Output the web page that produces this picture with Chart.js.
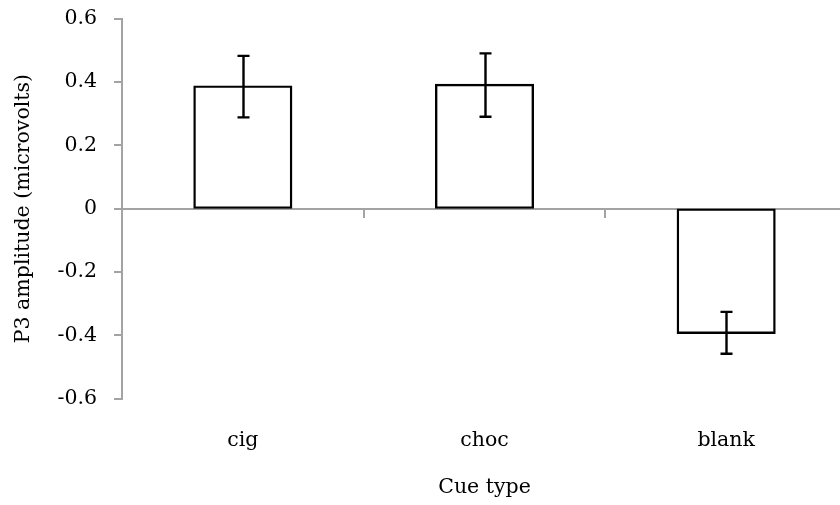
<!DOCTYPE html>
<html>
<head>
<meta charset="utf-8">
<script src="https://cdn.jsdelivr.net/npm/chart.js@4/dist/chart.umd.min.js"></script>
<style>
  html, body { margin: 0; padding: 0; background: #ffffff; overflow: hidden; }
  #wrap { position: relative; width: 847px; height: 505px; }
</style>
</head>
<body>
<div id="wrap"><canvas id="chart"></canvas></div>
<script>
// Mean P3 amplitude per cue type, with standard error
const categories = ['cig', 'choc', 'blank'];
const amplitudes = [0.385, 0.39, -0.392];
const stdErrors = [0.097, 0.1, 0.066];
const yTicks = [-0.6, -0.4, -0.2, 0, 0.2, 0.4, 0.6];

const AXIS_GREY = '#a3a3a3';
const FONT = { family: '"DejaVu Serif", serif', size: 20.5 };

// Draws the error whiskers on top of each bar
const errorBars = {
  id: 'errorBars',
  afterDatasetsDraw(chart) {
    const meta = chart.getDatasetMeta(0);
    const yScale = chart.scales.y;
    const ctx = chart.ctx;
    ctx.save();
    ctx.strokeStyle = '#000000';
    ctx.lineWidth = 2.4;
    meta.data.forEach((bar, i) => {
      const v = amplitudes[i];
      const e = stdErrors[i];
      const x = Math.round(bar.x) + 0.5;
      const yHi = yScale.getPixelForValue(v + e);
      const yLo = yScale.getPixelForValue(v - e);
      const cap = 6;
      ctx.beginPath();
      ctx.moveTo(x, yHi); ctx.lineTo(x, yLo);
      ctx.moveTo(x - cap, yHi); ctx.lineTo(x + cap, yHi);
      ctx.moveTo(x - cap, yLo); ctx.lineTo(x + cap, yLo);
      ctx.stroke();
    });
    ctx.restore();
  }
};

new Chart(document.getElementById('chart'), {
  type: 'bar',
  data: {
    labels: categories,
    datasets: [{
      data: amplitudes,
      backgroundColor: '#ffffff',
      borderColor: '#000000',
      borderWidth: 2.4,
      borderSkipped: false,
      inflateAmount: 1.2,
      barPercentage: 0.4,
      categoryPercentage: 1.0,
      xAxisID: 'x',
      yAxisID: 'y'
    }]
  },
  options: {
    responsive: true,
    maintainAspectRatio: false,
    animation: false,
    layout: { padding: { top: 18.5, right: 0, bottom: 0, left: 0 } },
    plugins: { legend: { display: false }, tooltip: { enabled: false } },
    scales: {
      // Zero line with category separators
      x: {
        type: 'category',
        position: { y: 0 },
        offset: true,
        grid: { offset: true, drawOnChartArea: false, drawTicks: true, tickLength: 8, color: AXIS_GREY, lineWidth: 2 },
        border: { display: true, color: AXIS_GREY, width: 2 },
        ticks: { display: false }
      },
      // Category names and axis title along the bottom
      x2: {
        type: 'category',
        labels: categories,
        position: 'bottom',
        offset: true,
        grid: { display: false },
        border: { display: false },
        ticks: { color: '#000000', font: FONT, padding: 22, maxRotation: 0 },
        title: { display: true, text: 'Cue type', color: '#000000', font: FONT, padding: { top: 0, bottom: 5 } },
        afterFit(scale) { scale.height = 106.3; }
      },
      y: {
        type: 'linear',
        min: -0.6,
        max: 0.6,
        afterBuildTicks(scale) { scale.ticks = yTicks.map(v => ({ value: v })); },
        grid: { drawOnChartArea: false, drawTicks: true, tickLength: 8, color: AXIS_GREY, lineWidth: 2 },
        border: { display: true, color: AXIS_GREY, width: 2 },
        ticks: {
          color: '#000000',
          font: FONT,
          padding: 17,
          callback: (v) => String(parseFloat(Number(v).toFixed(1)))
        },
        title: { display: true, text: 'P3 amplitude (microvolts)', color: '#000000', font: FONT, padding: { top: 11, bottom: 0 } },
        afterFit(scale) {
          scale.width = 122;
          scale.paddingTop = 0;
          scale.paddingBottom = 0;
        }
      }
    }
  },
  plugins: [errorBars]
});
</script>
</body>
</html>
